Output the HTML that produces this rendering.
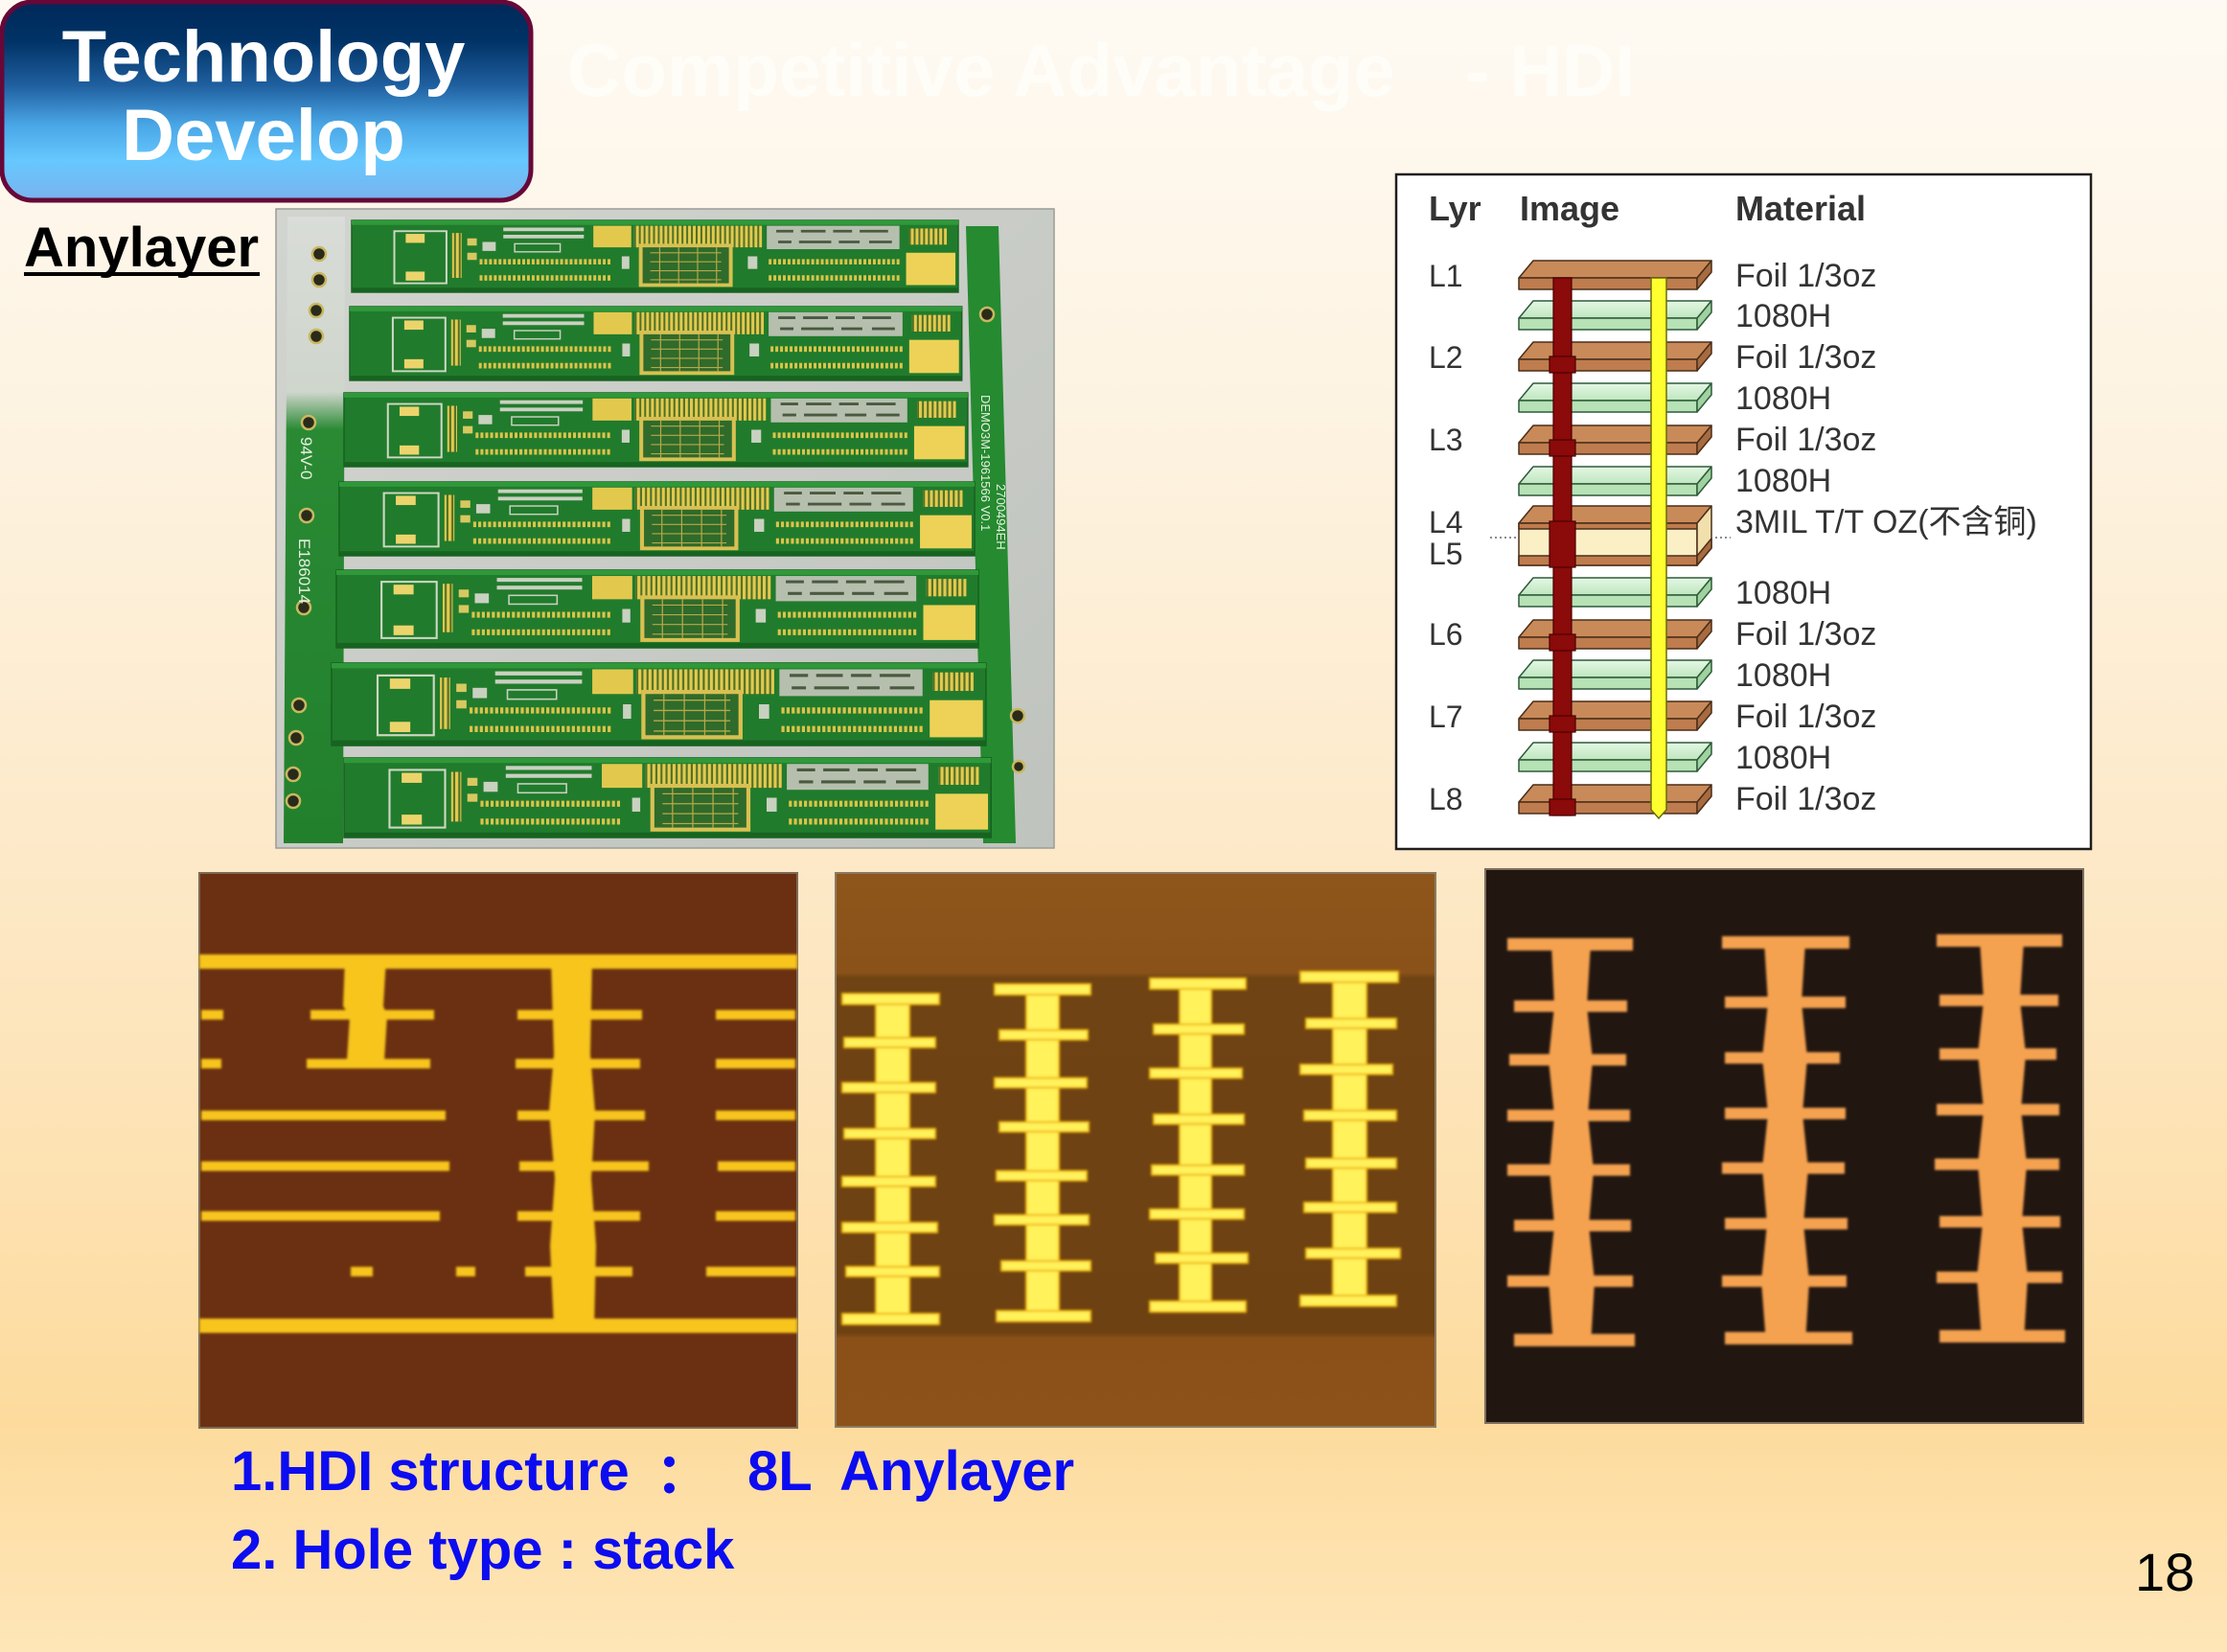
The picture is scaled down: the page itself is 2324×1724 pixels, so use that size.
<!DOCTYPE html>
<html><head><meta charset="utf-8">
<style>
html,body{margin:0;padding:0;}
body{width:2324px;height:1724px;overflow:hidden;position:relative;
background:linear-gradient(to bottom,#fefaf3 0%,#fdf2df 28%,#fde9c8 52%,#fde1b0 72%,#fddb9d 86%,#fee6b8 100%);}
svg{position:absolute;left:0;top:0;}
</style></head>
<body>
<svg width="2324" height="1724" viewBox="0 0 2324 1724" xmlns="http://www.w3.org/2000/svg" xmlns:xlink="http://www.w3.org/1999/xlink" font-family="'Liberation Sans', Arial, sans-serif">
<defs>
  <linearGradient id="tb" x1="0" y1="0" x2="0" y2="1">
    <stop offset="0" stop-color="#00285a"/>
    <stop offset="0.2" stop-color="#013366"/>
    <stop offset="0.42" stop-color="#1f5f9f"/>
    <stop offset="0.62" stop-color="#4aa6e6"/>
    <stop offset="0.8" stop-color="#66c8fe"/>
    <stop offset="1" stop-color="#7ab2ee"/>
  </linearGradient>
  <linearGradient id="rail" x1="0" y1="0" x2="0" y2="1">
    <stop offset="0" stop-color="#d9dcd8"/>
    <stop offset="0.28" stop-color="#cfd6cc"/>
    <stop offset="0.34" stop-color="#2a8a34"/>
    <stop offset="1" stop-color="#22802c"/>
  </linearGradient>
  <linearGradient id="photo" x1="0" y1="0" x2="1" y2="1">
    <stop offset="0" stop-color="#d2d4d0"/>
    <stop offset="1" stop-color="#bfc3bd"/>
  </linearGradient>
  <linearGradient id="gtop" x1="0" y1="0" x2="0" y2="1">
    <stop offset="0" stop-color="#e4f7e4"/>
    <stop offset="1" stop-color="#bfe6bf"/>
  </linearGradient>
  <linearGradient id="m2bg" x1="0" y1="0" x2="0" y2="1">
    <stop offset="0" stop-color="#8e561b"/>
    <stop offset="0.18" stop-color="#8a5219"/>
    <stop offset="0.19" stop-color="#6f4313"/>
    <stop offset="0.83" stop-color="#6d4112"/>
    <stop offset="0.84" stop-color="#8a5018"/>
    <stop offset="1" stop-color="#8c5219"/>
  </linearGradient>
  <pattern id="vstr" width="5" height="10" patternUnits="userSpaceOnUse">
    <rect width="5" height="10" fill="#4f7028"/>
    <rect width="3" height="10" fill="#e2ca4e"/>
  </pattern>
  <filter id="soft" x="-5%" y="-5%" width="110%" height="110%"><feGaussianBlur stdDeviation="1.4"/></filter>

  <g id="bd">
    <rect x="0" y="0" width="640" height="80" fill="#217b2c" stroke="#17621f" stroke-width="1.5"/>
    <rect x="0" y="0" width="640" height="5" fill="#2f993a"/>
    <rect x="0" y="75" width="640" height="5" fill="#176320"/>
    <rect x="45" y="12" width="55" height="58" fill="none" stroke="#cfd8c4" stroke-width="2"/>
    <rect x="57" y="15" width="20" height="10" fill="#ecd46c"/>
    <rect x="57" y="57" width="20" height="10" fill="#ecd46c"/>
    <rect x="106" y="14" width="10" height="50" fill="url(#vstr)"/>
    <rect x="122" y="20" width="10" height="8" fill="#d8c860"/>
    <rect x="122" y="36" width="10" height="8" fill="#d8c860"/>
    <rect x="138" y="24" width="14" height="10" fill="#c9d1c0"/>
    <rect x="160" y="8" width="85" height="4" fill="#c9d1c0"/>
    <rect x="160" y="16" width="85" height="4" fill="#c9d1c0"/>
    <rect x="172" y="26" width="48" height="9" fill="none" stroke="#c9d1c0" stroke-width="1.5"/>
    <rect x="255" y="6" width="40" height="24" fill="#e2c94e"/>
    <rect x="298" y="6" width="135" height="24" fill="url(#vstr)"/>
    <rect x="438" y="6" width="140" height="26" fill="#b6bfae"/>
    <path d="M448,12h18M474,12h26M508,12h20M536,12h30M450,24h14M472,24h34M514,24h22M546,24h24" stroke="#4a5a40" stroke-width="3"/>
    <line x1="135" y1="46" x2="275" y2="46" stroke="#dcc44a" stroke-width="6" stroke-dasharray="3 2"/>
    <line x1="135" y1="64" x2="275" y2="64" stroke="#dcc44a" stroke-width="6" stroke-dasharray="3 2"/>
    <line x1="440" y1="46" x2="578" y2="46" stroke="#dcc44a" stroke-width="6" stroke-dasharray="3 2"/>
    <line x1="440" y1="64" x2="578" y2="64" stroke="#dcc44a" stroke-width="6" stroke-dasharray="3 2"/>
    <rect x="305" y="28" width="95" height="44" fill="#2f6b2a" stroke="#d8c052" stroke-width="4"/>
    <path d="M315,36h75M315,46h75M315,56h75M315,66h75M325,30v40M345,30v40M365,30v40M385,30v40" stroke="#b8a848" stroke-width="1.2"/>
    <rect x="585" y="36" width="52" height="36" fill="#edd257"/>
    <rect x="588" y="9" width="40" height="18" fill="url(#vstr)"/>
    <rect x="285" y="40" width="8" height="14" fill="#c9d1c0"/>
    <rect x="418" y="40" width="10" height="14" fill="#c9d1c0"/>
  </g>

  <g id="foil" stroke="#4a2e18" stroke-width="1.5" stroke-linejoin="round">
    <polygon points="1600,0 1786,0 1771,18 1585,18" fill="#c98a5a"/>
    <rect x="1585" y="18" width="186" height="12" fill="#bf7c4e"/>
    <polygon points="1771,18 1786,0 1786,12 1771,30" fill="#a86a40"/>
  </g>
  <g id="green" stroke="#2f5a3a" stroke-width="1.5" stroke-linejoin="round">
    <polygon points="1600,0 1786,0 1771,18 1585,18" fill="url(#gtop)"/>
    <rect x="1585" y="18" width="186" height="12" fill="#b6e2b6"/>
    <polygon points="1771,18 1786,0 1786,12 1771,30" fill="#9fd29f"/>
  </g>
</defs>

<!-- Title box -->
<rect x="2" y="2" width="552" height="207" rx="32" ry="32" fill="url(#tb)" stroke="#670838" stroke-width="5"/>
<text x="275" y="85" text-anchor="middle" font-size="76" font-weight="bold" fill="#ffffff">Technology</text>
<text x="275" y="167" text-anchor="middle" font-size="76" font-weight="bold" fill="#ffffff">Develop</text>

<!-- faint title -->
<text x="592" y="100" font-size="78" font-weight="bold" fill="#fffdf8">Competitive Advantage</text>
<text x="1529" y="100" font-size="76" font-weight="bold" fill="#fffdf8">- HDI</text>

<!-- Anylayer -->
<text x="25" y="278" font-size="58" font-weight="bold" fill="#000">Anylayer</text>
<rect x="25" y="284" width="246" height="4" fill="#000"/>

<!-- PCB photo -->
<rect x="288" y="218" width="812" height="667" fill="url(#photo)" stroke="#9a9c98" stroke-width="1.5"/>
<polygon points="300,226 360,226 358,880 296,880" fill="url(#rail)"/>
<polygon points="1008,236 1042,236 1060,880 1026,880" fill="#258a30"/>
<g fill="#2a2a1a" stroke="#c8b860" stroke-width="2.5">
  <circle cx="333" cy="265" r="7"/><circle cx="333" cy="292" r="7"/><circle cx="330" cy="324" r="7"/>
  <circle cx="330" cy="351" r="7"/><circle cx="322" cy="441" r="7"/><circle cx="320" cy="538" r="7"/>
  <circle cx="317" cy="634" r="7"/><circle cx="312" cy="736" r="7"/><circle cx="309" cy="770" r="7"/>
  <circle cx="306" cy="808" r="7"/><circle cx="306" cy="836" r="7"/>
  <circle cx="1030" cy="328" r="7"/><circle cx="1062" cy="747" r="7"/><circle cx="1063" cy="800" r="6"/>
</g>
<text transform="translate(314,456) rotate(90)" font-size="17" fill="#e8efe0">94V-0</text>
<text transform="translate(312,562) rotate(90)" font-size="17" fill="#e8efe0">E186014</text>
<text transform="translate(1040,505) rotate(90)" font-size="13" fill="#e8efe0">2700494EH</text>
<text transform="translate(1024,412) rotate(90)" font-size="13" fill="#e8efe0">DEMO3M-1961566 V0.1</text>

<use xlink:href="#bd" transform="translate(367,230) scale(0.989,0.9375)"/>
<use xlink:href="#bd" transform="translate(365,320) scale(0.998,0.9625)"/>
<use xlink:href="#bd" transform="translate(359,410) scale(1.017,0.9625)"/>
<use xlink:href="#bd" transform="translate(354,503) scale(1.036,0.9625)"/>
<use xlink:href="#bd" transform="translate(351,595) scale(1.047,1.0125)"/>
<use xlink:href="#bd" transform="translate(346,692) scale(1.067,1.075)"/>
<use xlink:href="#bd" transform="translate(359,791) scale(1.055,1.0375)"/>

<!-- Stackup diagram -->
<rect x="1457" y="182" width="725" height="704" fill="#ffffff" stroke="#1e1e1e" stroke-width="2.5"/>
<g fill="#333" font-family="'Liberation Sans', Arial, sans-serif">
  <text x="1491" y="230" font-size="36" font-weight="bold">Lyr</text>
  <text x="1586" y="230" font-size="36" font-weight="bold">Image</text>
  <text x="1811" y="230" font-size="36" font-weight="bold">Material</text>
  <g font-size="32">
    <text x="1491" y="299">L1</text>
    <text x="1491" y="384">L2</text>
    <text x="1491" y="470">L3</text>
    <text x="1491" y="556">L4</text>
    <text x="1491" y="589">L5</text>
    <text x="1491" y="673">L6</text>
    <text x="1491" y="759">L7</text>
    <text x="1491" y="845">L8</text>
  </g>
  <g font-size="34">
    <text x="1811" y="299">Foil 1/3oz</text>
    <text x="1811" y="341">1080H</text>
    <text x="1811" y="384">Foil 1/3oz</text>
    <text x="1811" y="427">1080H</text>
    <text x="1811" y="470">Foil 1/3oz</text>
    <text x="1811" y="513">1080H</text>
    <text x="1811" y="556" font-family="'Liberation Sans', 'Noto Sans CJK SC', sans-serif">3MIL T/T OZ(不含铜)</text>
    <text x="1811" y="630">1080H</text>
    <text x="1811" y="673">Foil 1/3oz</text>
    <text x="1811" y="716">1080H</text>
    <text x="1811" y="759">Foil 1/3oz</text>
    <text x="1811" y="802">1080H</text>
    <text x="1811" y="845">Foil 1/3oz</text>
  </g>
</g>
<use xlink:href="#foil" transform="translate(0,272)"/>
<use xlink:href="#green" transform="translate(0,314)"/>
<use xlink:href="#foil" transform="translate(0,357)"/>
<use xlink:href="#green" transform="translate(0,400)"/>
<use xlink:href="#foil" transform="translate(0,444)"/>
<use xlink:href="#green" transform="translate(0,487)"/>
<g stroke="#4a2e18" stroke-width="1.5" stroke-linejoin="round">
  <polygon points="1600,528 1786,528 1771,546 1585,546" fill="#c98a5a"/>
  <rect x="1585" y="546" width="186" height="44" fill="#fbefc6"/>
  <rect x="1585" y="546" width="186" height="6" fill="#bf7c4e"/>
  <rect x="1585" y="580" width="186" height="10" fill="#bf7c4e"/>
  <polygon points="1771,546 1786,528 1786,572 1771,590" fill="#f1e0ae"/>
  <polygon points="1771,580 1786,562 1786,572 1771,590" fill="#a86a40"/>
</g>
<use xlink:href="#green" transform="translate(0,603)"/>
<use xlink:href="#foil" transform="translate(0,647)"/>
<use xlink:href="#green" transform="translate(0,689)"/>
<use xlink:href="#foil" transform="translate(0,732)"/>
<use xlink:href="#green" transform="translate(0,775)"/>
<use xlink:href="#foil" transform="translate(0,819)"/>
<line x1="1555" y1="561" x2="1583" y2="561" stroke="#666" stroke-width="1.5" stroke-dasharray="2 3"/>
<line x1="1790" y1="561" x2="1806" y2="561" stroke="#666" stroke-width="1.5" stroke-dasharray="2 3"/>
<!-- red stacked via -->
<g fill="#8b0a0a" stroke="#4a0000" stroke-width="1.2">
  <rect x="1621" y="290" width="19" height="561"/>
  <rect x="1617" y="372" width="27" height="17"/>
  <rect x="1617" y="459" width="27" height="17"/>
  <rect x="1617" y="544" width="27" height="48"/>
  <rect x="1617" y="662" width="27" height="17"/>
  <rect x="1617" y="747" width="27" height="17"/>
  <rect x="1617" y="834" width="27" height="17"/>
</g>
<!-- yellow through via -->
<path d="M1723,290 H1739 V845 L1731,854 L1723,845 Z" fill="#ffff30" stroke="#6a6a10" stroke-width="1.5"/>

<!-- Micrograph 1 -->
<rect x="208" y="911" width="624" height="579" fill="#6b3011" stroke="#7d6a58" stroke-width="2"/>
<g fill="#f7c51a" filter="url(#soft)">
  <rect x="208" y="996" width="624" height="15"/>
  <rect x="208" y="1376" width="624" height="15"/>
  <rect x="210" y="1054" width="23" height="10"/><rect x="324" y="1054" width="129" height="10"/><rect x="540" y="1054" width="130" height="10"/><rect x="747" y="1054" width="83" height="10"/>
  <rect x="210" y="1105" width="21" height="10"/><rect x="320" y="1105" width="129" height="10"/><rect x="538" y="1105" width="130" height="10"/><rect x="747" y="1105" width="83" height="10"/>
  <rect x="210" y="1159" width="255" height="10"/><rect x="540" y="1159" width="133" height="10"/><rect x="747" y="1159" width="83" height="10"/>
  <rect x="210" y="1212" width="259" height="10"/><rect x="542" y="1212" width="135" height="10"/><rect x="749" y="1212" width="81" height="10"/>
  <rect x="210" y="1264" width="249" height="10"/><rect x="540" y="1264" width="128" height="10"/><rect x="747" y="1264" width="83" height="10"/>
  <rect x="366" y="1322" width="23" height="10"/><rect x="476" y="1322" width="20" height="10"/><rect x="548" y="1322" width="112" height="10"/><rect x="737" y="1322" width="93" height="10"/>
  <polygon points="360,1000 403,1000 400,1050 404,1060 401,1107 362,1107 365,1060 358,1050"/>
  <polygon points="575,1000 618,1000 616,1100 621,1160 617,1230 622,1300 620,1386 578,1386 574,1300 579,1230 573,1160 578,1100"/>
</g>

<!-- Micrograph 2 -->
<rect x="872" y="911" width="626" height="578" fill="url(#m2bg)" stroke="#8c7a62" stroke-width="2"/>
<g fill="#fff25a" stroke="#f0b800" stroke-width="2" filter="url(#soft)">
  <rect x="914" y="1040" width="35" height="340"/>
  <rect x="879" y="1037" width="101" height="11"/><rect x="881" y="1083" width="95" height="10"/><rect x="879" y="1130" width="97" height="10"/><rect x="881" y="1178" width="95" height="10"/><rect x="879" y="1228" width="97" height="10"/><rect x="879" y="1276" width="99" height="10"/><rect x="883" y="1322" width="97" height="10"/><rect x="879" y="1371" width="101" height="11"/>
  <rect x="1071" y="1030" width="34" height="348"/>
  <rect x="1038" y="1027" width="100" height="11"/><rect x="1043" y="1075" width="92" height="10"/><rect x="1038" y="1125" width="96" height="10"/><rect x="1043" y="1171" width="93" height="10"/><rect x="1040" y="1222" width="94" height="10"/><rect x="1038" y="1268" width="98" height="10"/><rect x="1045" y="1316" width="93" height="10"/><rect x="1040" y="1368" width="98" height="11"/>
  <rect x="1231" y="1024" width="33" height="344"/>
  <rect x="1200" y="1021" width="100" height="11"/><rect x="1204" y="1069" width="94" height="10"/><rect x="1200" y="1115" width="96" height="10"/><rect x="1204" y="1163" width="94" height="10"/><rect x="1202" y="1216" width="96" height="10"/><rect x="1200" y="1262" width="98" height="10"/><rect x="1206" y="1308" width="96" height="10"/><rect x="1200" y="1358" width="100" height="11"/>
  <rect x="1391" y="1017" width="35" height="344"/>
  <rect x="1357" y="1014" width="102" height="11"/><rect x="1363" y="1063" width="94" height="10"/><rect x="1357" y="1111" width="96" height="10"/><rect x="1361" y="1159" width="96" height="10"/><rect x="1363" y="1209" width="94" height="10"/><rect x="1361" y="1255" width="96" height="10"/><rect x="1363" y="1303" width="98" height="10"/><rect x="1357" y="1352" width="100" height="11"/>
</g>

<!-- Micrograph 3 -->
<rect x="1550" y="907" width="624" height="578" fill="#221611" stroke="#7d6e5e" stroke-width="2"/>
<g fill="#f4a250" filter="url(#soft)">
  <polygon points="1619,985 1660,985 1656,1050 1662,1106 1657,1164 1663,1221 1658,1279 1664,1337 1660,1404 1621,1404 1616,1337 1622,1279 1617,1221 1622,1164 1616,1106 1622,1050"/>
  <rect x="1573" y="979" width="131" height="13"/><rect x="1580" y="1044" width="118" height="12"/><rect x="1575" y="1100" width="122" height="12"/><rect x="1573" y="1158" width="128" height="12"/><rect x="1573" y="1215" width="128" height="12"/><rect x="1580" y="1273" width="122" height="12"/><rect x="1573" y="1331" width="131" height="12"/><rect x="1580" y="1392" width="126" height="13"/>
  <polygon points="1841,983 1884,983 1880,1046 1886,1104 1881,1162 1887,1219 1882,1277 1888,1337 1884,1402 1843,1402 1838,1337 1844,1277 1839,1219 1845,1162 1839,1104 1845,1046"/>
  <rect x="1797" y="977" width="133" height="13"/><rect x="1800" y="1040" width="126" height="12"/><rect x="1800" y="1098" width="120" height="12"/><rect x="1800" y="1156" width="126" height="12"/><rect x="1797" y="1213" width="128" height="12"/><rect x="1800" y="1271" width="128" height="12"/><rect x="1797" y="1331" width="130" height="12"/><rect x="1800" y="1390" width="133" height="13"/>
  <polygon points="2066,981 2112,981 2108,1044 2114,1100 2109,1158 2115,1215 2110,1275 2116,1333 2112,1400 2068,1400 2063,1333 2069,1275 2064,1215 2070,1158 2064,1100 2070,1044"/>
  <rect x="2021" y="975" width="131" height="13"/><rect x="2024" y="1038" width="124" height="12"/><rect x="2024" y="1094" width="122" height="12"/><rect x="2021" y="1152" width="128" height="12"/><rect x="2019" y="1209" width="130" height="12"/><rect x="2024" y="1269" width="126" height="12"/><rect x="2021" y="1327" width="131" height="12"/><rect x="2024" y="1388" width="131" height="13"/>
</g>

<!-- Bottom text -->
<g font-size="58" font-weight="bold" fill="#0c0cf0">
  <text x="241" y="1555">1.HDI structure</text>
  <text x="684" y="1558" font-family="'Liberation Sans', 'Noto Sans CJK SC', sans-serif">：</text>
  <text x="780" y="1555">8L</text>
  <text x="876" y="1555">Anylayer</text>
  <text x="241" y="1637">2. Hole type : stack</text>
</g>
<text x="2228" y="1660" font-size="56" fill="#000">18</text>
</svg>
</body></html>
